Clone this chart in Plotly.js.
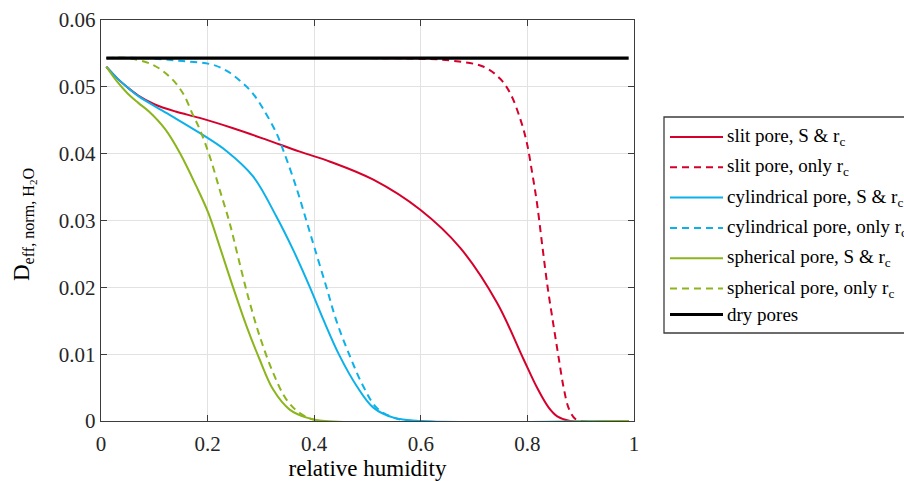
<!DOCTYPE html>
<html>
<head>
<meta charset="utf-8">
<script src="https://cdn.plot.ly/plotly-3.0.1.min.js"></script>
<style>
  html, body { margin: 0; padding: 0; background: #ffffff; }
  #chart { width: 904px; height: 481px; }
  #chart svg text { font-family: 'Liberation Serif', 'Times New Roman', serif !important; }
</style>
</head>
<body>
<div id="chart"></div>
<script>
// Normalised effective diffusivity of H2O versus relative humidity
// for three pore geometries (with and without surface diffusion S).

const slitBothX = [0.01, 0.03, 0.05, 0.07, 0.1, 0.14, 0.185, 0.248, 0.31, 0.373, 0.43, 0.511, 0.599, 0.674, 0.743, 0.793, 0.818, 0.84, 0.856, 0.88, 0.99];
const slitBothY = [0.0530, 0.0513, 0.0499, 0.0487, 0.0474, 0.0463, 0.04535, 0.0438, 0.0421, 0.0403, 0.0388, 0.0361, 0.0316, 0.0259, 0.0177, 0.0092, 0.0050, 0.0020, 0.0007, 0.0, 0.0];

const slitOnlyX = [0.01, 0.3, 0.6, 0.661, 0.718, 0.749, 0.768, 0.787, 0.799, 0.809, 0.818, 0.828, 0.838, 0.848, 0.858, 0.868, 0.878, 0.89, 0.9, 0.99];
const slitOnlyY = [0.0543, 0.0543, 0.0542, 0.0539, 0.0530, 0.0512, 0.0490, 0.0451, 0.0416, 0.0371, 0.0326, 0.0262, 0.0200, 0.0148, 0.0098, 0.0050, 0.0018, 0.0003, 0.0, 0.0];

const cylBothX = [0.01, 0.03, 0.05, 0.07, 0.1225, 0.185, 0.2353, 0.2853, 0.329, 0.3605, 0.392, 0.417, 0.448, 0.480, 0.511, 0.549, 0.6, 0.99];
const cylBothY = [0.0530, 0.0513, 0.0499, 0.0486, 0.0461, 0.0431, 0.0404, 0.0366, 0.0306, 0.0256, 0.0200, 0.0152, 0.0097, 0.0052, 0.0020, 0.0005, 0.0, 0.0];

const cylOnlyX = [0.01, 0.08, 0.1475, 0.21, 0.24, 0.2665, 0.285, 0.305, 0.329, 0.342, 0.367, 0.386, 0.401, 0.423, 0.442, 0.467, 0.492, 0.517, 0.549, 0.5875, 0.99];
const cylOnlyY = [0.0543, 0.0543, 0.0539, 0.0533, 0.0522, 0.0505, 0.0490, 0.0466, 0.0431, 0.0405, 0.0348, 0.0298, 0.0258, 0.0200, 0.0149, 0.0097, 0.0052, 0.0020, 0.0005, 0.0, 0.0];

const sphBothX = [0.01, 0.03, 0.05, 0.07, 0.09, 0.12, 0.148, 0.179, 0.2015, 0.2227, 0.2478, 0.273, 0.2977, 0.323, 0.354, 0.386, 0.42, 0.99];
const sphBothY = [0.0530, 0.0508, 0.0490, 0.0476, 0.0463, 0.0437, 0.0401, 0.0351, 0.0311, 0.0261, 0.0200, 0.0142, 0.0092, 0.0047, 0.0017, 0.0005, 0.0, 0.0];

const sphOnlyX = [0.01, 0.05, 0.097, 0.129, 0.154, 0.1725, 0.185, 0.204, 0.2227, 0.2415, 0.257, 0.276, 0.2977, 0.323, 0.348, 0.373, 0.41, 0.99];
const sphOnlyY = [0.0543, 0.0543, 0.0533, 0.0515, 0.0490, 0.0458, 0.0437, 0.0396, 0.0346, 0.0296, 0.0246, 0.0186, 0.0127, 0.0072, 0.0032, 0.0012, 0.0, 0.0];

const dryX = [0.01, 0.99];
const dryY = [0.0543, 0.0543];

const seriesNames = [
  'slit pore, S &amp; r<sub>c</sub>',
  'slit pore, only r<sub>c</sub>',
  'cylindrical pore, S &amp; r<sub>c</sub>',
  'cylindrical pore, only r<sub>c</sub>',
  'spherical pore, S &amp; r<sub>c</sub>',
  'spherical pore, only r<sub>c</sub>',
  'dry pores'
];

const xTitle = 'relative humidity';
const yTitle = 'D<sub>eff, norm, H<sub>2</sub>O</sub>';

const xTickVals = [0, 0.2, 0.4, 0.6, 0.8, 1];
const xTickText = ['0', '0.2', '0.4', '0.6', '0.8', '1'];
const yTickVals = [0, 0.01, 0.02, 0.03, 0.04, 0.05, 0.06];
const yTickText = ['0', '0.01', '0.02', '0.03', '0.04', '0.05', '0.06'];

const RED = '#d5002b', CYAN = '#0db1ea', GREEN = '#8bb51c', BLACK = '#000000';
const DASH = '7px,5px';
const styles = [
  { color: RED,   dash: 'solid', width: 2 },
  { color: RED,   dash: DASH,    width: 2 },
  { color: CYAN,  dash: 'solid', width: 2 },
  { color: CYAN,  dash: DASH,    width: 2 },
  { color: GREEN, dash: 'solid', width: 2 },
  { color: GREEN, dash: DASH,    width: 2 },
  { color: BLACK, dash: 'solid', width: 3.2 }
];

const xs = [slitBothX, slitOnlyX, cylBothX, cylOnlyX, sphBothX, sphOnlyX, dryX];
const ys = [slitBothY, slitOnlyY, cylBothY, cylOnlyY, sphBothY, sphOnlyY, dryY];

const traces = xs.map((x, i) => ({
  type: 'scatter',
  mode: 'lines',
  x: x,
  y: ys[i],
  name: seriesNames[i],
  showlegend: false,
  hoverinfo: 'skip',
  line: {
    color: styles[i].color,
    dash: styles[i].dash,
    width: styles[i].width,
    shape: i === 6 ? 'linear' : 'spline',
    smoothing: 1
  }
}));

// Page geometry used for the boxed legend and the vertical axis label
const FIG_W = 904, FIG_H = 481;
const M = { l: 101, r: 270, t: 20, b: 60 };
const PW = FIG_W - M.l - M.r, PH = FIG_H - M.t - M.b;
const paperX = px => (px - M.l) / PW;
const paperY = py => (FIG_H - M.b - py) / PH;

const FONT = 'Liberation Serif, Times New Roman, serif';
const rowCenter = i => (i < 6 ? 137 + 30.3 * i : 314.5);

const shapes = [{
  type: 'rect', xref: 'paper', yref: 'paper', layer: 'above',
  x0: paperX(664), x1: paperX(915), y0: paperY(333), y1: paperY(117),
  line: { color: '#3c3c3c', width: 1.3 }, fillcolor: '#ffffff'
}];
const annotations = [];
seriesNames.forEach((name, i) => {
  const yc = paperY(rowCenter(i));
  shapes.push({
    type: 'line', xref: 'paper', yref: 'paper', layer: 'above',
    x0: paperX(670), x1: paperX(723), y0: yc, y1: yc,
    line: { color: styles[i].color, dash: styles[i].dash, width: styles[i].width === 2 ? 2 : 3 }
  });
  annotations.push({
    xref: 'paper', yref: 'paper', x: paperX(725), y: yc,
    xanchor: 'left', yanchor: 'middle', showarrow: false,
    text: name, align: 'left',
    font: { family: FONT, size: 19, color: '#000000' }
  });
});

// vertical axis label, rotated
annotations.push({
  xref: 'paper', yref: 'paper', x: paperX(7), y: paperY(225),
  xanchor: 'left', yanchor: 'middle', showarrow: false,
  textangle: -90, text: yTitle,
  font: { family: FONT, size: 23, color: '#000000' }
});

const axisCommon = {
  showline: true, mirror: 'ticks', linecolor: '#3c3c3c', linewidth: 1.2,
  ticks: 'inside', ticklen: 6, tickwidth: 1, tickcolor: '#3c3c3c',
  showgrid: true, gridcolor: '#e2e2e2', gridwidth: 1,
  zeroline: false, tickmode: 'array',
  tickfont: { family: FONT, size: 21, color: '#262626' }
};

const layout = {
  width: FIG_W, height: FIG_H,
  margin: M,
  font: { family: FONT },
  paper_bgcolor: '#ffffff', plot_bgcolor: '#ffffff',
  showlegend: false,
  xaxis: Object.assign({}, axisCommon, {
    range: [0, 1], tickvals: xTickVals, ticktext: xTickText,
    ticklabelstandoff: 4,
    title: { text: xTitle, font: { family: FONT, size: 23, color: '#000000' }, standoff: 2 }
  }),
  yaxis: Object.assign({}, axisCommon, {
    range: [0, 0.06], tickvals: yTickVals, ticktext: yTickText
  }),
  shapes: shapes,
  annotations: annotations
};

Plotly.newPlot('chart', traces, layout, { staticPlot: true, displayModeBar: false });
</script>
</body>
</html>
